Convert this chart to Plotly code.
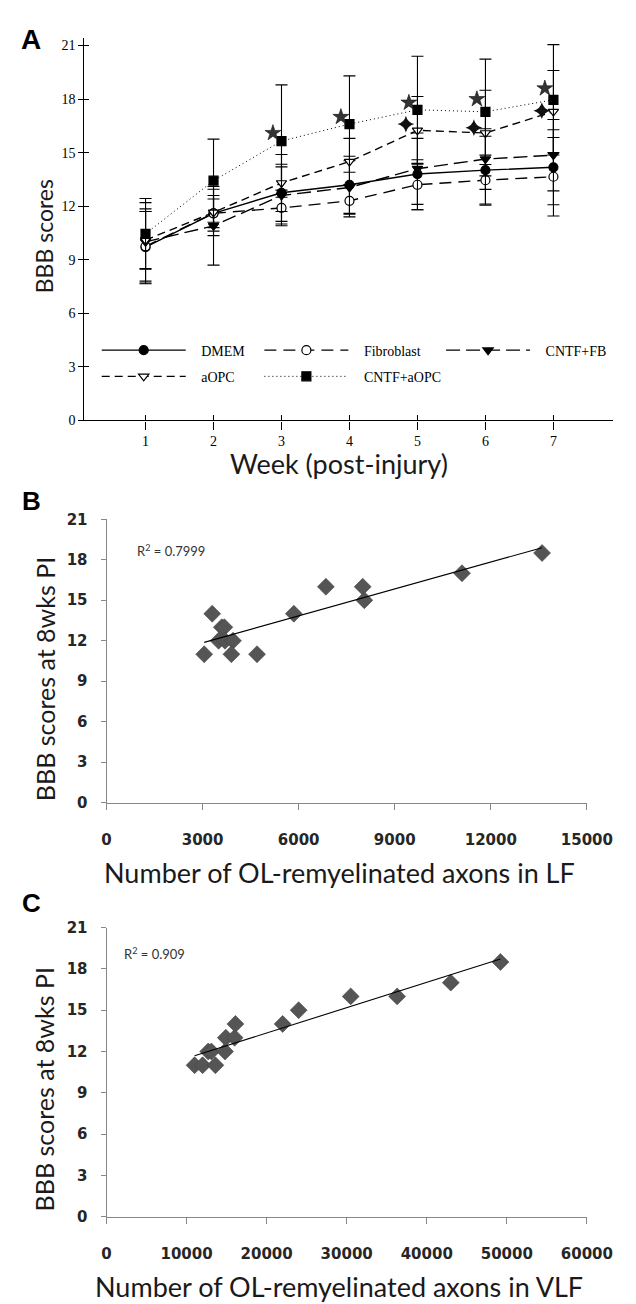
import numpy as np
import plotly.graph_objects as go

# ---------------- Panel A data ----------------
weeks = [1, 2, 3, 4, 5, 6, 7]
dmem = [9.7, 11.6, 12.75, 13.2, 13.8, 14.02, 14.18]
dmem_err = [2.0, 1.0, 1.6, 1.6, 2.0, 1.9, 2.1]
fibro = [9.75, 11.6, 11.9, 12.3, 13.2, 13.46, 13.65]
fibro_err = [2.1, 0.8, 1.0, 0.9, 1.4, 1.4, 2.2]
cntf_fb = [10.0, 10.9, 12.6, 13.05, 14.1, 14.64, 14.86]
cntf_fb_err = [2.2, 2.2, 1.6, 1.5, 2.0, 1.7, 2.0]
aopc = [10.1, 11.65, 13.3, 14.5, 16.25, 16.1, 17.3]
aopc_err = [1.6, 1.3, 1.6, 1.3, 1.9, 2.4, 2.3]
cntf_aopc = [10.45, 13.43, 15.65, 16.6, 17.4, 17.29, 17.96]
cntf_aopc_err = [1.98, 2.33, 3.15, 2.7, 3.0, 2.95, 3.09]

star_weeks = [3, 4, 5, 6, 7]
star_vals = [16.1, 17.0, 17.8, 18.0, 18.6]
cross_weeks = [5, 6, 7]
cross_vals = [16.6, 16.4, 17.35]

yticks_bbb = [0, 3, 6, 9, 12, 15, 18, 21]

# ---------------- Panel B data ----------------
lf_axons = [3050, 3300, 3500, 3600, 3680, 3700, 3950, 3900, 4700, 5850, 6850, 8000, 8050, 11100, 13600]
lf_bbb = [11, 14, 12, 13, 13, 12, 12, 11, 11, 14, 16, 16, 15, 17, 18.5]
lf_ticks = [0, 3000, 6000, 9000, 12000, 15000]

# ---------------- Panel C data ----------------
vlf_axons = [11000, 12000, 12700, 13100, 13600, 14800, 14900, 16000, 16100, 22000, 24000, 30500, 36300, 43000, 49200]
vlf_bbb = [11, 11, 12, 12, 11, 12, 13, 13, 14, 14, 15, 16, 16, 17, 18.5]
vlf_ticks = [0, 10000, 20000, 30000, 40000, 50000, 60000]

W, H = 636, 1304


def fx(px):
    return px / W


def fy(px):
    return 1 - px / H


fig = go.Figure()

series = [
    ("DMEM", dmem, dmem_err, "circle", "black", "solid", "legend"),
    ("Fibroblast", fibro, fibro_err, "circle", "white", "12px,7px", "legend2"),
    ("CNTF+FB", cntf_fb, cntf_fb_err, "triangle-down", "black", "14px,6px", "legend3"),
    ("aOPC", aopc, aopc_err, "triangle-down", "white", "8px,5px", "legend"),
    ("CNTF+aOPC", cntf_aopc, cntf_aopc_err, "square", "black", "1px,3px", "legend2"),
]

for name, vals, errs, sym, fill, dash, lg in series:
    lw = 1.0 if dash == "1px,3px" else 1.4
    fig.add_trace(go.Scatter(
        x=weeks, y=vals, mode="lines+markers", showlegend=False,
        line=dict(color="black", width=lw, dash=dash),
        marker=dict(symbol=sym, size=9, color=fill, line=dict(color="black", width=1.2)),
        error_y=dict(type="data", array=errs, visible=True, color="black", thickness=1.1, width=6),
        xaxis="x", yaxis="y", cliponaxis=False,
    ))
    fig.add_trace(go.Scatter(
        x=[None], y=[None], mode="lines+markers", name="\u00a0\u00a0\u00a0" + name,
        legend=lg, legendgroup=name,
        line=dict(color="black", width=lw, dash=dash),
        marker=dict(symbol=sym, size=9, color=fill, line=dict(color="black", width=1.2)),
        xaxis="x", yaxis="y",
    ))

fig.add_trace(go.Scatter(
    x=[w - 0.126 for w in star_weeks], y=star_vals, mode="markers", showlegend=False,
    marker=dict(symbol="star", size=12, color="#333", line=dict(color="#111", width=0.6)),
    xaxis="x", yaxis="y",
))
fig.add_trace(go.Scatter(
    x=[w - 0.17 for w in cross_weeks], y=cross_vals, mode="markers", showlegend=False,
    marker=dict(symbol="star-diamond", size=12, color="#111", line=dict(width=0)),
    xaxis="x", yaxis="y",
))

# inner-tick overlay axes for panel A (crossing ticks)
fig.add_trace(go.Scatter(x=[None], y=[None], xaxis="x4", yaxis="y4", showlegend=False))

# ---------------- Panel B ----------------
diamond = dict(symbol="diamond", size=13, color="#555555", line=dict(color="#444", width=0.6))
fig.add_trace(go.Scatter(x=lf_axons, y=lf_bbb, mode="markers", marker=diamond,
                         showlegend=False, xaxis="x2", yaxis="y2"))
b1, b0 = np.polyfit(lf_axons, lf_bbb, 1)
lx = [min(lf_axons), max(lf_axons)]
fig.add_trace(go.Scatter(x=lx, y=[b0 + b1 * v for v in lx], mode="lines",
                         line=dict(color="black", width=1.1), showlegend=False,
                         xaxis="x2", yaxis="y2"))

# ---------------- Panel C ----------------
fig.add_trace(go.Scatter(x=vlf_axons, y=vlf_bbb, mode="markers", marker=diamond,
                         showlegend=False, xaxis="x3", yaxis="y3"))
c1, c0 = np.polyfit(vlf_axons, vlf_bbb, 1)
vx = [min(vlf_axons), max(vlf_axons)]
fig.add_trace(go.Scatter(x=vx, y=[c0 + c1 * v for v in vx], mode="lines",
                         line=dict(color="black", width=1.1), showlegend=False,
                         xaxis="x3", yaxis="y3"))

serif = "Liberation Serif"
sans = "Lato"

xa_dom = [fx(75), fx(631)]
ya_dom = [fy(409), fy(21)]
xr = [0.1, 7.88]
yr = [0, 21.44]

gray = "#888888"
bold_tick = dict(family="DejaVu Sans", size=15, color="#262626")


def btext(vals):
    return ["<b>%d</b>" % v for v in vals]


legend_common = dict(
    orientation="v", xanchor="left", yanchor="top", bgcolor="rgba(0,0,0,0)",
    font=dict(family=serif, size=14, color="black"), itemwidth=84,
    tracegroupgap=5, traceorder="grouped", borderwidth=0,
)

fig.update_layout(
    width=W, height=H, margin=dict(l=0, r=0, t=0, b=0),
    paper_bgcolor="white", plot_bgcolor="white",
    legend=dict(x=fx(88), y=fy(322), **legend_common),
    legend2=dict(x=fx(259), y=fy(322), **legend_common),
    legend3=dict(x=fx(450), y=fy(322), **legend_common),
    xaxis=dict(domain=xa_dom, range=xr, anchor="y", tickvals=weeks, ticks="outside",
               ticklen=8, tickcolor="black", tickwidth=1.1, showline=True, linecolor="black",
               linewidth=1.3, showgrid=False, zeroline=False,
               tickfont=dict(family=serif, size=14, color="black")),
    yaxis=dict(domain=ya_dom, range=yr, anchor="x", tickvals=yticks_bbb, ticks="outside",
               ticklen=5, tickcolor="black", tickwidth=1.1, showline=True, linecolor="black",
               linewidth=1.3, showgrid=False, zeroline=False,
               tickfont=dict(family=serif, size=14, color="black")),
    xaxis4=dict(domain=xa_dom, range=xr, anchor="y", overlaying="x", side="bottom",
                tickvals=weeks, ticks="inside", ticklen=5, tickcolor="black", tickwidth=1.1,
                showticklabels=False, showgrid=False, zeroline=False, showline=False),
    yaxis4=dict(domain=ya_dom, range=yr, anchor="x", overlaying="y", side="left",
                tickvals=yticks_bbb, ticks="inside", ticklen=5, tickcolor="black", tickwidth=1.1,
                showticklabels=False, showgrid=False, zeroline=False, showline=False),
    xaxis2=dict(domain=[fx(98.3), fx(603.3)], range=[0, 15000], anchor="y2", tickvals=lf_ticks,
                ticktext=btext(lf_ticks),
                ticks="outside", ticklen=6, tickcolor=gray, showline=True, linecolor=gray,
                linewidth=1, showgrid=False, zeroline=False, tickfont=bold_tick,
                ticklabelstandoff=17),
    yaxis2=dict(domain=[fy(796.7), fy(509.3)], range=[0, 21], anchor="x2", tickvals=yticks_bbb,
                ticktext=btext(yticks_bbb),
                ticks="outside", ticklen=5, tickcolor=gray, showline=True, linecolor=gray,
                linewidth=1, showgrid=False, zeroline=False, tickfont=bold_tick,
                ticklabelstandoff=10),
    xaxis3=dict(domain=[fx(98.3), fx(603.3)], range=[0, 60000], anchor="y3", tickvals=vlf_ticks,
                ticktext=btext(vlf_ticks),
                ticks="outside", ticklen=6, tickcolor=gray, showline=True, linecolor=gray,
                linewidth=1, showgrid=False, zeroline=False, tickfont=bold_tick,
                ticklabelstandoff=17),
    yaxis3=dict(domain=[fy(1216.5), fy(923.3)], range=[0, 21], anchor="x3", tickvals=yticks_bbb,
                ticktext=btext(yticks_bbb),
                ticks="outside", ticklen=5, tickcolor=gray, showline=True, linecolor=gray,
                linewidth=1, showgrid=False, zeroline=False, tickfont=bold_tick,
                ticklabelstandoff=10),
)

xtitle_font = dict(family=sans, size=27, color="#1a1a1a")
ytitle_font = dict(family=sans, size=25, color="#1a1a1a")
annos = [
    dict(text="<b>A</b>", x=fx(19), y=fy(23), font=dict(family="Liberation Sans", size=28, color="black")),
    dict(text="<b>B</b>", x=fx(19), y=fy(491), font=dict(family="Liberation Sans", size=26, color="black")),
    dict(text="<b>C</b>", x=fx(19), y=fy(898), font=dict(family="Liberation Sans", size=26, color="black")),
    dict(text="BBB scores", x=fx(33), y=fy(222), textangle=-90,
         font=dict(family=sans, size=23, color="#1a1a1a")),
    dict(text="Week (post-injury)", x=fx(343), y=fy(453), font=xtitle_font),
    dict(text="BBB scores at 8wks PI", x=fx(33), y=fy(671), textangle=-90, font=ytitle_font),
    dict(text="Number of OL-remyelinated axons in LF", x=fx(343), y=fy(867), font=xtitle_font),
    dict(text="BBB scores at 8wks PI", x=fx(33), y=fy(1087), textangle=-90, font=ytitle_font),
    dict(text="Number of OL-remyelinated axons in VLF", x=fx(343), y=fy(1287), font=xtitle_font),
    dict(text="R<sup>2</sup> = 0.7999", x=fx(128), y=fy(541), xanchor="left",
         font=dict(family=sans, size=13, color="#333")),
    dict(text="R<sup>2</sup> = 0.909", x=fx(115), y=fy(950), xanchor="left",
         font=dict(family=sans, size=13, color="#333")),
]
for a in annos:
    a.setdefault("xanchor", "center")
    fig.add_annotation(xref="paper", yref="paper", showarrow=False, yanchor="middle", **a)

fig.write_html("out.html")
